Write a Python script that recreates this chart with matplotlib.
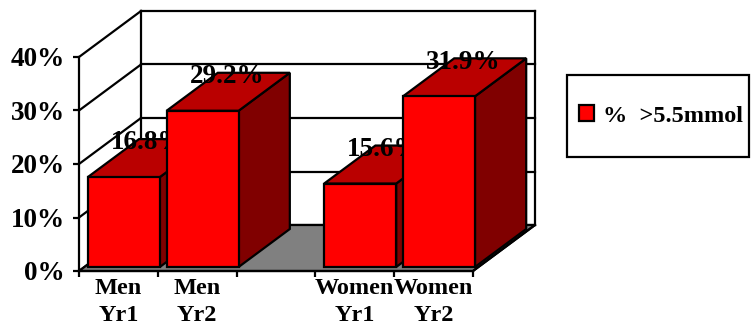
import matplotlib
matplotlib.use("Agg")
import matplotlib.pyplot as plt
from matplotlib.patches import Polygon, Rectangle, Patch
from matplotlib.ticker import PercentFormatter

categories = ["Men\nYr1", "Men\nYr2", "", "Women\nYr1", "Women\nYr2"]
values = [16.8, 29.2, None, 15.6, 31.9]
value_labels = ["16.8%", "29.2%", "", "15.6%", "31.9%"]
legend_label = "%  >5.5mmol"
y_ticks = [0, 10, 20, 30, 40]

W, H = 755, 325
RED, TOP, SIDE, FLOOR = "#FF0000", "#BA0000", "#800000", "#808080"
SERIF = "Liberation Serif"
LW = 1.6

fig = plt.figure(figsize=(W / 100, H / 100), dpi=100, facecolor="white")
# Front plane of the 3D box: one unit per category on x, percent on y
ax = fig.add_axes([79 / W, 1 - 271 / H, (473 - 79) / W, (271 - 57) / H])
ax.set_xlim(0, len(categories))
ax.set_ylim(0, 40)
ax.patch.set_visible(False)

# Oblique projection: depth 1 is the back wall of the box
DX = 62 / ((473 - 79) / len(categories))
DY = 46 / ((271 - 57) / 40)


def proj(x, y, d=0.0):
    return (x + d * DX, y + d * DY)


def face(points, color, z):
    ax.add_patch(Polygon(points, closed=True, facecolor=color, edgecolor="black",
                         linewidth=LW, joinstyle="miter", clip_on=False, zorder=z))


def line(p, q, z=1):
    ax.plot(*zip(p, q), color="black", lw=LW, clip_on=False, zorder=z,
            solid_capstyle="projecting")


# Walls and floor
n = len(categories)
face([proj(0, 0), proj(n, 0), proj(n, 0, 1), proj(0, 0, 1)], FLOOR, 1.5)
for t in y_ticks:
    line(proj(0, t), proj(0, t, 1))
    line(proj(0, t, 1), proj(n, t, 1))
line(proj(0, 0, 1), proj(0, 40, 1))
line(proj(n, 0, 1), proj(n, 40, 1))
line(proj(n, 0), proj(n, 0, 1), 2)

# Bars, painted left to right so each one covers its neighbour's label
D0, D1 = 0.087, 0.913
GAP = 0.043
z = 3
for i, (v, lab) in enumerate(zip(values, value_labels)):
    if v is None:
        continue
    x0, x1 = i + GAP, i + 1 - GAP
    face([proj(x1, 0, D0), proj(x1, 0, D1), proj(x1, v, D1), proj(x1, v, D0)], SIDE, z)
    face([proj(x0, v, D0), proj(x1, v, D0), proj(x1, v, D1), proj(x0, v, D1)], TOP, z)
    face([proj(x0, 0, D0), proj(x1, 0, D0), proj(x1, v, D0), proj(x0, v, D0)], RED, z)
    ax.annotate(lab, xy=proj((x0 + x1) / 2, v, D0), xytext=(17.5, 20),
                textcoords="offset points", ha="center", va="baseline",
                fontsize=19.5, fontweight="bold", family=SERIF, color="black",
                annotation_clip=False, zorder=z + 0.5)
    z += 1

# Axes, ticks and labels
for side in ("top", "right"):
    ax.spines[side].set_visible(False)
for side in ("left", "bottom"):
    ax.spines[side].set_linewidth(LW)
ax.set_yticks(y_ticks)
ax.yaxis.set_major_formatter(PercentFormatter(decimals=0))
ax.tick_params(axis="y", length=4.5, width=LW, pad=5.5, labelsize=19.5)
ax.set_xticks(range(n + 1))
ax.set_xticks([i + 0.5 for i in range(n)], minor=True)
ax.set_xticklabels([""] * (n + 1))
ax.set_xticklabels(categories, minor=True, linespacing=1.35)
ax.tick_params(axis="x", which="major", length=4.5, width=LW)
ax.tick_params(axis="x", which="minor", length=0, pad=5, labelsize=17.5)
for t in ax.get_yticklabels() + ax.get_xticklabels(minor=True):
    t.set_fontfamily(SERIF)
    t.set_fontweight("bold")

# Legend box with its swatch
fig.add_artist(Rectangle((567 / W, 1 - 157 / H), 182 / W, 82 / H, transform=fig.transFigure,
                         facecolor="white", edgecolor="black", linewidth=LW))
fs = 17.5
leg = fig.legend(handles=[Patch(facecolor=RED, edgecolor="black", linewidth=LW, label=legend_label)],
                 loc="center left", bbox_to_anchor=(579 / W, 1 - 116 / H), frameon=False,
                 borderpad=0, borderaxespad=0, handlelength=0.6, handleheight=0.6, handletextpad=0.4,
                 prop={"family": SERIF, "weight": "bold", "size": fs})

fig.savefig("out.png", dpi=100, facecolor="white")
